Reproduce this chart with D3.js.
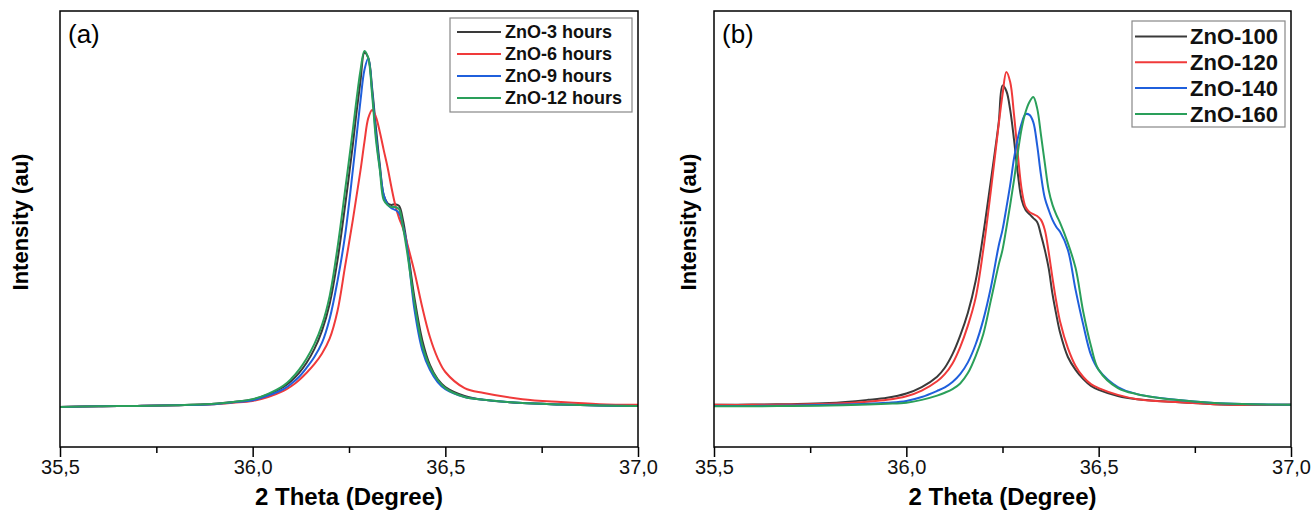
<!DOCTYPE html>
<html>
<head>
<meta charset="utf-8">
<script src="https://cdn.jsdelivr.net/npm/d3@7"></script>
<style>
body { margin: 0; background: #fff; }
text { font-family: "Liberation Sans", Arial, sans-serif; }
</style>
</head>
<body>
<script>
// 2 theta grid (degrees) and intensities (a.u.)
var thetaA = [35.50,35.60,35.70,35.80,35.90,35.95,36.00,36.04,36.08,36.10,36.12,36.14,36.16,36.18,36.20,36.22,36.24,
  36.26,36.27,36.28,36.29,36.30,36.31,36.32,36.33,36.34,36.35,36.36,36.37,36.38,36.39,36.40,
  36.42,36.44,36.46,36.48,36.50,36.55,36.60,36.70,36.80,36.90,37.00];

var zno3h  = [0,2,3,5,9,14,21,35,56,73,95,124,162,214,290,410,565,
  735,830,915,992,978,893,781,678,594,571,566,568,563,524,459,
  305,188,118,78,56,31,20,11,7,4,3];
var zno6h  = [0,2,3,5,8,12,17,28,45,58,75,96,120,150,192,268,395,
  524,594,664,742,809,832,812,770,720,672,616,566,529,501,462,
  378,280,196,137,98,53,39,22,14,8,6];
var zno9h  = [0,2,3,5,8,13,19,32,50,65,84,110,140,180,248,352,482,
  664,762,860,944,977,885,762,669,594,568,557,552,543,507,454,
  272,160,104,70,50,28,20,11,7,4,3];
var zno12h = [0,2,3,5,9,14,22,37,60,79,104,136,176,230,312,445,608,
  776,865,944,997,977,874,748,664,580,566,560,560,554,504,440,
  291,174,112,76,53,28,20,11,7,4,3];

var thetaB = [35.50,35.60,35.70,35.80,35.90,35.95,36.00,36.04,36.08,36.10,36.12,36.14,36.16,36.18,36.20,36.22,36.24,36.25,
  36.26,36.27,36.28,36.29,36.30,36.31,36.32,36.33,36.34,36.35,36.36,36.37,36.38,36.39,36.40,
  36.42,36.44,36.46,36.48,36.50,36.55,36.60,36.70,36.80,36.90,37.00];

var zno100 = [6,7,8,11,20,26,38,56,85,110,148,200,264,352,484,636,795,900,
  885,832,748,652,580,552,540,529,518,482,440,389,316,258,207,
  140,104,78,59,48,31,22,14,8,6,6];
var zno120 = [6,6,7,9,15,20,30,46,72,92,122,168,228,305,440,608,790,874,
  938,910,818,706,608,560,546,540,535,524,496,434,361,294,238,
  165,115,84,64,53,34,22,14,8,6,6];
var zno140 = [3,3,4,6,9,12,17,28,45,55,70,92,125,175,244,336,451,496,
  557,622,697,753,795,820,818,798,734,650,585,552,524,504,490,
  440,328,230,146,104,56,36,20,11,8,6];
var zno160 = [2,2,3,4,7,9,12,20,32,40,50,66,95,142,204,300,398,440,
  501,566,636,714,781,826,854,868,837,762,683,608,566,538,515,
  459,389,266,171,104,53,36,20,11,8,6];

var namesA = ["ZnO-3 hours", "ZnO-6 hours", "ZnO-9 hours", "ZnO-12 hours"];
var namesB = ["ZnO-100", "ZnO-120", "ZnO-140", "ZnO-160"];
var colors = ["#3a3a3a", "#f03a3a", "#1f5fdc", "#2a9f5a"];
var majorTicks = [35.5, 36.0, 36.5, 37.0];
var minorTicks = [35.75, 36.25, 36.75];

var width = 1313, height = 513;
var plotTop = 11, plotBottom = 447;

var svg = d3.select("body").append("svg")
    .attr("width", width)
    .attr("height", height);

var fmt = d3.formatLocale({decimal: ",", thousands: ".", grouping: [3], currency: ["", ""]}).format(".1f");

var panels = [
  {left: 60, right: 638, tag: "(a)", theta: thetaA, series: [zno3h, zno6h, zno9h, zno12h], names: namesA, ylab: 28,
   leg: {x: 450, y: 18, w: 182, h: 94, row0: 32, step: 22, x1: 457, x2: 501, tx: 505, fs: 18}},
  {left: 714, right: 1291, tag: "(b)", theta: thetaB, series: [zno100, zno120, zno140, zno160], names: namesB, ylab: 696,
   leg: {x: 1132, y: 21, w: 153, h: 106, row0: 36.5, step: 25.8, x1: 1135, x2: 1187, tx: 1190, fs: 22}}
];

var yScale = d3.scaleLinear().domain([-112, 1109]).range([plotBottom, plotTop]);

panels.forEach(function(p) {
  var xScale = d3.scaleLinear().domain([35.5, 37.0]).range([p.left, p.right]);
  var g = svg.append("g");

  // curves
  var line = d3.line()
      .x(function(d) { return xScale(d[0]); })
      .y(function(d) { return yScale(d[1]); })
      .curve(d3.curveCatmullRom.alpha(0.5));

  p.series.forEach(function(s, i) {
    var pts = p.theta.map(function(t, j) { return [t, s[j]]; });
    g.append("path")
        .datum(pts)
        .attr("fill", "none")
        .attr("stroke", colors[i])
        .attr("stroke-width", 2)
        .attr("stroke-linejoin", "round")
        .attr("d", line);
  });

  // frame
  g.append("rect")
      .attr("x", p.left).attr("y", plotTop)
      .attr("width", p.right - p.left).attr("height", plotBottom - plotTop)
      .attr("fill", "none").attr("stroke", "#000").attr("stroke-width", 1.5);

  // x axis, major + minor ticks
  var ax = g.append("g")
      .attr("transform", "translate(0," + plotBottom + ")")
      .call(d3.axisBottom(xScale).tickValues(majorTicks).tickSize(10).tickPadding(3).tickFormat(fmt));
  ax.select(".domain").remove();
  ax.selectAll("line").attr("stroke", "#000").attr("stroke-width", 1.5);
  ax.selectAll("text").attr("font-size", "20px").attr("fill", "#111")
      .style("font-family", "'Liberation Sans', Arial, sans-serif");

  var axm = g.append("g")
      .attr("transform", "translate(0," + plotBottom + ")")
      .call(d3.axisBottom(xScale).tickValues(minorTicks).tickSize(6).tickFormat(""));
  axm.select(".domain").remove();
  axm.selectAll("line").attr("stroke", "#000").attr("stroke-width", 1.5);

  // axis titles
  g.append("text")
      .attr("x", (p.left + p.right) / 2)
      .attr("y", 505)
      .attr("text-anchor", "middle")
      .attr("font-size", "24px")
      .attr("font-weight", "bold")
      .text("2 Theta (Degree)");

  g.append("text")
      .attr("transform", "translate(" + p.ylab + "," + 222 + ") rotate(-90)")
      .attr("text-anchor", "middle")
      .attr("font-size", "22px")
      .attr("font-weight", "bold")
      .text("Intensity (au)");

  // panel tag
  g.append("text")
      .attr("x", p.left + 8)
      .attr("y", 43)
      .attr("font-size", "26px")
      .text(p.tag);

  // legend
  var L = p.leg;
  g.append("rect")
      .attr("x", L.x).attr("y", L.y).attr("width", L.w).attr("height", L.h)
      .attr("fill", "#fff").attr("stroke", "#888").attr("stroke-width", 1.2);

  p.names.forEach(function(n, i) {
    var cy = L.row0 + i * L.step;
    g.append("line")
        .attr("x1", L.x1).attr("x2", L.x2).attr("y1", cy).attr("y2", cy)
        .attr("stroke", colors[i]).attr("stroke-width", 2);
    g.append("text")
        .attr("x", L.tx).attr("y", cy)
        .attr("dy", "0.35em")
        .attr("font-size", L.fs + "px")
        .attr("font-weight", "bold")
        .attr("fill", "#111")
        .text(n);
  });
});
</script>
</body>
</html>
